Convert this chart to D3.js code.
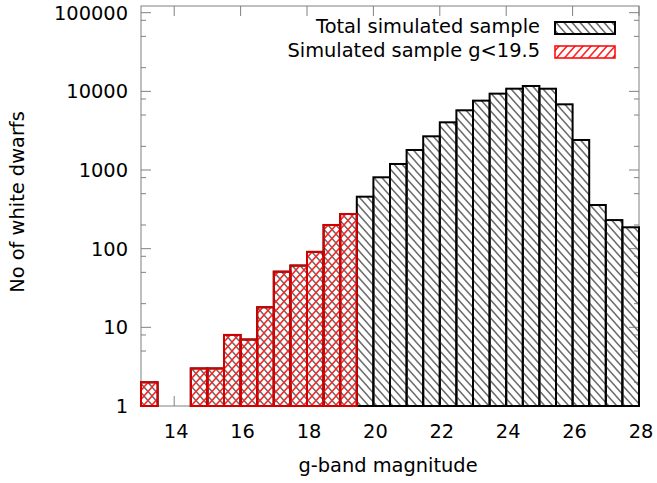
<!DOCTYPE html>
<html>
<head>
<meta charset="utf-8">
<script src="https://cdn.jsdelivr.net/npm/d3@7"></script>
<style>
  html, body { margin: 0; padding: 0; background: #fff; }
  svg { display: block; }
  text { font-family: "DejaVu Sans", sans-serif; fill: #000; }
</style>
</head>
<body>
<div id="chart"></div>
<script>
// ---- data ----
const binStarts = [13, 13.5, 14, 14.5, 15, 15.5, 16, 16.5, 17, 17.5, 18, 18.5, 19,
                   19.5, 20, 20.5, 21, 21.5, 22, 22.5, 23, 23.5, 24, 24.5, 25, 25.5, 26, 26.5, 27, 27.5];
const binWidth = 0.5;
const totalCounts = [2, 0, 0, 3, 3, 8, 7, 18, 51, 61, 91, 200, 276,
                     458, 808, 1193, 1797, 2682, 4040, 5743, 7617, 9350, 10810, 11700, 10800, 6840, 2408, 359, 231, 187];
const brightCounts = [2, 0, 0, 3, 3, 8, 7, 18, 51, 61, 91, 200, 276];
const xTicks = [14, 16, 18, 20, 22, 24, 26, 28];
const yTicks = [1, 10, 100, 1000, 10000, 100000];
const yMinorMult = [2, 5, 8];
const seriesNames = ["Total simulated sample", "Simulated sample g<19.5"];
const xTitle = "g-band magnitude";
const yTitle = "No of white dwarfs";

// ---- layout ----
const W = 657, H = 483;
const L = 141, R = 639, T = 6, B = 406;

const svg = d3.select("#chart").append("svg").attr("width", W).attr("height", H);

const x = d3.scaleLinear().domain([13, 28]).range([L, R]);
const y = d3.scaleLog().domain([1, Math.pow(10, 5.085)]).range([B, T]);

// patterns
const defs = svg.append("defs");
const pb = defs.append("pattern").attr("id", "hatchBlack")
  .attr("patternUnits", "userSpaceOnUse").attr("width", 8).attr("height", 9);
pb.append("path").attr("d", "M-2,-2.25 L10,11.25 M-10,-2.25 L2,11.25 M6,-2.25 L18,11.25")
  .attr("stroke", "#6e6e6e").attr("stroke-width", 1.5);
const pr = defs.append("pattern").attr("id", "hatchRed")
  .attr("patternUnits", "userSpaceOnUse").attr("width", 8).attr("height", 9);
pr.append("path").attr("d", "M-2,11.25 L10,-2.25 M-10,11.25 L2,-2.25 M6,11.25 L18,-2.25")
  .attr("stroke", "#ff2020").attr("stroke-width", 1.5);

// frame (border) in gray
svg.append("rect").attr("x", L).attr("y", T).attr("width", R - L).attr("height", B - T)
  .attr("fill", "none").attr("stroke", "#808080").attr("stroke-width", 1);

// ticks
const tickG = svg.append("g").attr("stroke", "#808080").attr("stroke-width", 1);
xTicks.forEach(v => {
  tickG.append("line").attr("x1", x(v)).attr("x2", x(v)).attr("y1", B).attr("y2", B - 10);
  tickG.append("line").attr("x1", x(v)).attr("x2", x(v)).attr("y1", T).attr("y2", T + 10);
});
yTicks.forEach(v => {
  tickG.append("line").attr("x1", L).attr("x2", L + 10).attr("y1", y(v)).attr("y2", y(v));
  tickG.append("line").attr("x1", R).attr("x2", R - 10).attr("y1", y(v)).attr("y2", y(v));
  yMinorMult.forEach(m => {
    const vv = v * m;
    if (y(vv) >= T) {
      tickG.append("line").attr("x1", L).attr("x2", L + 5).attr("y1", y(vv)).attr("y2", y(vv));
      tickG.append("line").attr("x1", R).attr("x2", R - 5).attr("y1", y(vv)).attr("y2", y(vv));
    }
  });
});

// bars
const totalData = binStarts.map((s, i) => ({ s, v: totalCounts[i] })).filter(d => d.v > 0);
const brightData = binStarts.slice(0, brightCounts.length).map((s, i) => ({ s, v: brightCounts[i] })).filter(d => d.v > 0);

svg.append("g").selectAll("rect").data(totalData).join("rect")
  .attr("x", d => x(d.s)).attr("width", d => x(d.s + binWidth) - x(d.s))
  .attr("y", d => y(d.v)).attr("height", d => y(1) - y(d.v))
  .attr("fill", "url(#hatchBlack)").attr("stroke", "#000").attr("stroke-width", 2);

svg.append("g").selectAll("rect").data(brightData).join("rect")
  .attr("x", d => x(d.s)).attr("width", d => x(d.s + binWidth) - x(d.s))
  .attr("y", d => y(d.v)).attr("height", d => y(1) - y(d.v))
  .attr("fill", "url(#hatchRed)").attr("stroke", "#d40000").attr("stroke-width", 2);

// tick labels
const fs = 19.4;
svg.append("g").selectAll("text").data(xTicks).join("text")
  .attr("x", d => x(d) + 2).attr("y", 438).attr("text-anchor", "middle")
  .attr("font-size", fs).text(d => d);
svg.append("g").selectAll("text").data(yTicks).join("text")
  .attr("x", 128).attr("y", d => y(d) + 7).attr("text-anchor", "end")
  .attr("font-size", fs).text(d => d);

// axis titles
svg.append("text").attr("x", 388).attr("y", 472).attr("text-anchor", "middle")
  .attr("font-size", fs).text(xTitle);
svg.append("text").attr("transform", "translate(24,202) rotate(-90)")
  .attr("text-anchor", "middle").attr("font-size", fs).text(yTitle);

// legend
const legY = [33, 57];
const legFill = ["url(#hatchBlack)", "url(#hatchRed)"];
const legStroke = ["#000", "#ff0000"];
const legSW = [2, 1.5];
seriesNames.forEach((n, i) => {
  svg.append("text").attr("x", 540).attr("y", legY[i]).attr("text-anchor", "end")
    .attr("font-size", fs).text(n);
  svg.append("rect").attr("x", 555).attr("y", legY[i] - 11).attr("width", 60).attr("height", 12)
    .attr("fill", legFill[i]).attr("stroke", legStroke[i]).attr("stroke-width", legSW[i]);
});
</script>
</body>
</html>
